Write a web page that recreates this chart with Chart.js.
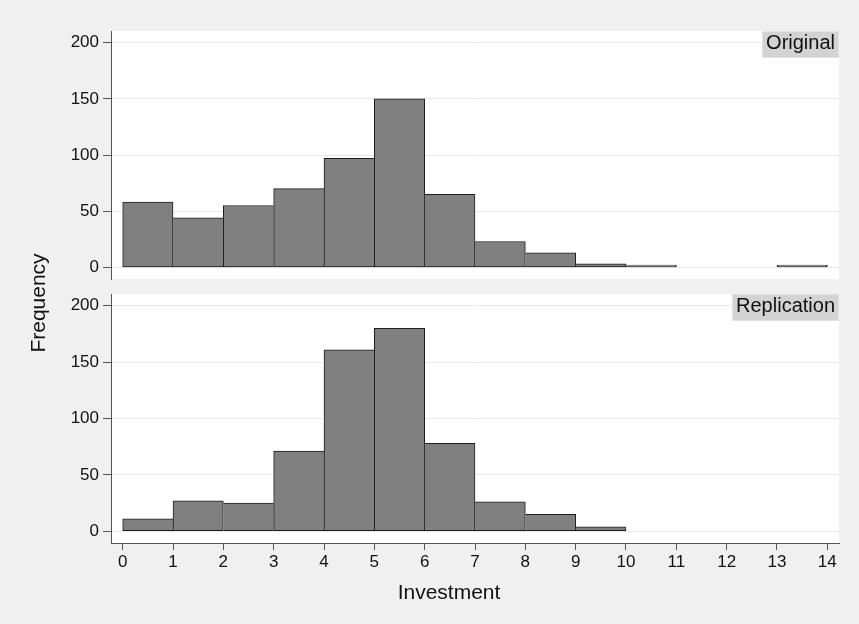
<!DOCTYPE html>
<html>
<head>
<meta charset="utf-8">
<script src="https://cdn.jsdelivr.net/npm/chart.js@4.4.1/dist/chart.umd.min.js"></script>
<style>
  body { margin: 0; background: #f0f0f0; }
  #wrap { position: relative; width: 859px; height: 624px; }
  canvas { position: absolute; left: 0; top: 0; }
</style>
</head>
<body>
<div id="wrap">
  <canvas id="chartTop" width="859" height="624"></canvas>
  <canvas id="chartBottom" width="859" height="624"></canvas>
</div>
<script>
// histogram bins (left edges, width 1)
const binStarts = [0, 1, 2, 3, 4, 5, 6, 7, 8, 9, 10, 11, 12, 13];
const originalCounts = [58, 44, 55, 70, 97, 150, 65, 23, 13, 3, 2, 0, 0, 2];
const replicationCounts = [11, 27, 25, 71, 161, 180, 78, 26, 15, 4, 0, 0, 0, 0];
const xTicks = [0, 1, 2, 3, 4, 5, 6, 7, 8, 9, 10, 11, 12, 13, 14];
const yTicks = [0, 50, 100, 150, 200];

const FONT = "'Liberation Sans', Arial, Helvetica, sans-serif";
const TEXT = "#111";
const AXIS = "#555";

// white plot region + grey panel label in the top right corner
const panelPlugin = {
  id: "panel",
  beforeDraw(chart) {
    const a = chart.chartArea;
    const ctx = chart.ctx;
    ctx.save();
    ctx.fillStyle = "#ffffff";
    ctx.fillRect(a.left, a.top, a.right - a.left, a.bottom - a.top);
    ctx.restore();
  },
  afterDraw(chart, args, opts) {
    const a = chart.chartArea;
    const ctx = chart.ctx;
    ctx.save();
    ctx.font = "20px " + FONT;
    const w = ctx.measureText(opts.text).width + 8;
    ctx.fillStyle = "#d3d3d3";
    ctx.fillRect(a.right - w, a.top, w, 27);
    ctx.strokeStyle = "#e2e2ea";
    ctx.lineWidth = 1;
    ctx.strokeRect(a.right - w + 0.5, a.top + 0.5, w - 1, 26);
    ctx.fillStyle = TEXT;
    ctx.textAlign = "right";
    ctx.textBaseline = "alphabetic";
    ctx.fillText(opts.text, a.right - 4, a.top + 18);
    ctx.restore();
  }
};

// shared axis titles, drawn once on the lower chart
const titlesPlugin = {
  id: "titles",
  afterDraw(chart) {
    const ctx = chart.ctx;
    ctx.save();
    ctx.font = "21px " + FONT;
    ctx.fillStyle = TEXT;
    ctx.textAlign = "center";
    ctx.textBaseline = "alphabetic";
    ctx.fillText("Investment", 449, 599);
    ctx.translate(45, 303);
    ctx.rotate(-Math.PI / 2);
    ctx.fillText("Frequency", 0, 0);
    ctx.restore();
  }
};

function makeChart(id, counts, label, showX) {
  const data = binStarts.map((s, i) => ({ x: s + 0.5, y: counts[i] || null }));

  const xScale = {
    type: "linear",
    min: -0.232,
    max: 14.232,
    offset: false,
    display: showX,
    afterBuildTicks: (s) => { s.ticks = xTicks.map((v) => ({ value: v })); },
    ticks: { padding: 2, autoSkip: false, maxRotation: 0, color: TEXT, font: { family: FONT, size: 17 } },
    grid: { offset: false, drawOnChartArea: false, tickLength: 7, tickColor: AXIS },
    border: { color: AXIS, width: 1 }
  };
  if (showX) xScale.afterFit = (s) => { s.height = 40; };

  return new Chart(document.getElementById(id), {
    type: "bar",
    data: {
      datasets: [{
        data: data,
        backgroundColor: "#808080",
        borderColor: "#1e1e1e",
        borderSkipped: false,
        borderWidth: (ctx) => {
          const i = ctx.dataIndex;
          const v = counts[i];
          const prev = counts[i - 1];
          const next = counts[i + 1];
          return {
            top: 1,
            bottom: 1,
            left: (!prev || prev <= v) ? 1 : 0,
            right: (!next || next < v) ? 1 : 0
          };
        },
        barPercentage: 1,
        categoryPercentage: 1
      }]
    },
    options: {
      responsive: false,
      animation: false,
      layout: {
        padding: showX
          ? { left: 0, top: 294, right: 20, bottom: 41 }
          : { left: 0, top: 31, right: 20, bottom: 345 }
      },
      scales: {
        x: xScale,
        y: {
          min: -10.4,
          max: 210.4,
          afterBuildTicks: (s) => { s.ticks = yTicks.map((v) => ({ value: v })); },
          afterFit: (s) => { s.width = 111; },
          ticks: { padding: 4, color: TEXT, font: { family: FONT, size: 17 } },
          grid: { color: "#e8e8e8", lineWidth: 1, tickLength: 8, tickColor: AXIS },
          border: { color: AXIS, width: 1 }
        }
      },
      plugins: {
        legend: { display: false },
        tooltip: { enabled: false },
        panel: { text: label }
      }
    },
    plugins: showX ? [panelPlugin, titlesPlugin] : [panelPlugin]
  });
}

makeChart("chartTop", originalCounts, "Original", false);
makeChart("chartBottom", replicationCounts, "Replication", true);
</script>
</body>
</html>
